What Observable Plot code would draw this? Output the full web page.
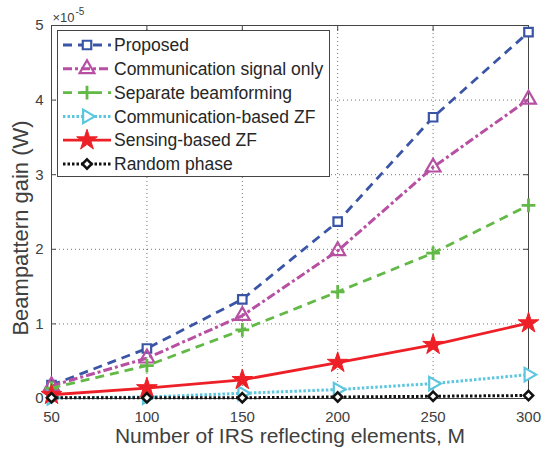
<!DOCTYPE html>
<html>
<head>
<meta charset="utf-8">
<script src="https://cdn.jsdelivr.net/npm/d3@7"></script>
<script src="https://cdn.jsdelivr.net/npm/@observablehq/plot@0.6"></script>
<style>
  html, body { margin: 0; padding: 0; background: white; }
</style>
</head>
<body>
<div id="chart"></div>
<script>
// ---- data (values in units of 1e-5 W) ----
const M = [50, 100, 150, 200, 250, 300];
const proposed    = [0.18, 0.67, 1.33, 2.37, 3.77, 4.91];
const commOnly    = [0.17, 0.54, 1.11, 1.98, 3.10, 4.01];
const separate    = [0.14, 0.44, 0.92, 1.43, 1.95, 2.59];
const commZF      = [0.01, 0.02, 0.07, 0.12, 0.20, 0.32];
const sensingZF   = [0.05, 0.14, 0.25, 0.48, 0.72, 1.01];
const randomPhase = [0.01, 0.01, 0.01, 0.02, 0.03, 0.04];
const seriesNames = ["Proposed", "Communication signal only", "Separate beamforming",
                     "Communication-based ZF", "Sensing-based ZF", "Random phase"];
const xTicks = [50, 100, 150, 200, 250, 300];
const yTicks = [0, 1, 2, 3, 4, 5];
const yLabel = "Beampattern gain (W)";
const xLabel = "Number of IRS reflecting elements, M";

// ---- styles ----
const styles = [
  {values: proposed,    stroke: "#3a55a6", dash: "9,6",     width: 2.8, symbol: "square",   r: 4.8, fill: "white", rotate: 0,  sw: 2.2},
  {values: commOnly,    stroke: "#b74fa3", dash: "9,3,3,3", width: 3,   symbol: "triangle", r: 5.5, fill: "none",  rotate: 0,  sw: 2.2},
  {values: separate,    stroke: "#62b946", dash: "9,6",     width: 2.8, symbol: "plus",     r: 4.5, fill: "none",  rotate: 0,  sw: 2.8},
  {values: commZF,      stroke: "#5cc6df", dash: "2.5,2",   width: 3,   symbol: "triangle", r: 5,   fill: "white", rotate: 90, sw: 2.2},
  {values: sensingZF,   stroke: "#ee2027", dash: null,      width: 2.8, symbol: "star",     r: 6.5, fill: "#ee2027", rotate: 0, sw: 1},
  {values: randomPhase, stroke: "#111111", dash: "2.5,2",   width: 3,   symbol: "diamond2", r: 4.2, fill: "white", rotate: 0,  sw: 2.5}
];

const fmt = d => String(d);

const marks = [
  Plot.gridX(xTicks, {stroke: "#666", strokeOpacity: 0.9, strokeDasharray: "1,3", strokeWidth: 1}),
  Plot.gridY(yTicks, {stroke: "#666", strokeOpacity: 0.9, strokeDasharray: "1,3", strokeWidth: 1}),
  Plot.ruleX(xTicks, {y1: 0, y2: 0.08, stroke: "#444"}),
  Plot.ruleX(xTicks, {y1: 5, y2: 4.92, stroke: "#444"}),
  Plot.ruleY(yTicks, {x1: 50, x2: 52.5, stroke: "#444"}),
  Plot.ruleY(yTicks, {x1: 300, x2: 297.5, stroke: "#444"}),
  Plot.frame({stroke: "#444", strokeWidth: 1}),
  Plot.axisX(xTicks, {tickSize: 0, tickPadding: 13, label: null, fontSize: 15, fill: "#404040", tickFormat: fmt}),
  Plot.axisY(yTicks, {tickSize: 0, tickPadding: 8, label: null, fontSize: 15, fill: "#404040", tickFormat: fmt})
];

styles.forEach((s, k) => {
  const data = M.map((m, i) => ({M: m, v: s.values[i], name: seriesNames[k]}));
  marks.push(Plot.line(data, {x: "M", y: "v", stroke: s.stroke, strokeWidth: s.width,
    strokeDasharray: s.dash, strokeLinecap: "butt"}));
  marks.push(Plot.dot(data, {x: "M", y: "v", symbol: () => s.symbol, r: s.r, stroke: s.stroke,
    fill: s.fill, strokeWidth: s.sw, rotate: s.rotate}));
});

marks.push(
  Plot.text([yLabel], {frameAnchor: "left", rotate: -90, dx: -31, dy: 16, textAnchor: "middle",
    fontSize: 22, fill: "#404040"}),
  Plot.text([xLabel], {frameAnchor: "bottom", dy: 44, textAnchor: "middle",
    fontSize: 21, fill: "#404040"}),
  Plot.text(["\u00d710"], {frameAnchor: "top-left", dx: 1, dy: -13, textAnchor: "start",
    fontSize: 13, fill: "#404040"}),
  Plot.text(["-5"], {frameAnchor: "top-left", dx: 24, dy: -18, textAnchor: "start",
    fontSize: 10, fill: "#404040"})
);

const chart = Plot.plot({
  width: 542,
  height: 450,
  marginLeft: 51,
  marginRight: 14,
  marginTop: 25,
  marginBottom: 52,
  x: {domain: [50, 300]},
  y: {domain: [0, 5]},
  style: {fontFamily: "'Liberation Sans', Arial, sans-serif", fontSize: "14px", background: "white", overflow: "visible"},
  marks
});
document.getElementById("chart").appendChild(chart);

// ---- legend (inside the plot, top-left) ----
const svg = d3.select(chart);
const lg = svg.append("g").attr("font-family", "'Liberation Sans', Arial, sans-serif")
  .attr("text-anchor", "start");
lg.append("rect").attr("x", 57.5).attr("y", 30.5).attr("width", 272).attr("height", 146)
  .attr("fill", "white").attr("stroke", "#444").attr("stroke-width", 1);
const symbolMap = {square: d3.symbolSquare, triangle: d3.symbolTriangle, plus: d3.symbolPlus,
  star: d3.symbolStar, diamond2: d3.symbolDiamond2};
styles.forEach((s, k) => {
  const y = 45 + k * 23.8;
  lg.append("line").attr("x1", 63).attr("x2", 111).attr("y1", y).attr("y2", y)
    .attr("stroke", s.stroke).attr("stroke-width", s.width)
    .attr("stroke-dasharray", s.dash);
  lg.append("path")
    .attr("d", d3.symbol(symbolMap[s.symbol], Math.PI * s.r * s.r)())
    .attr("transform", `translate(87,${y}) rotate(${s.rotate})`)
    .attr("fill", s.fill).attr("stroke", s.stroke).attr("stroke-width", s.sw);
  lg.append("text").attr("x", 114).attr("y", y).attr("dy", "0.35em")
    .attr("text-anchor", "start")
    .attr("font-size", 17.5).attr("fill", "#262626").text(seriesNames[k]);
});
</script>
</body>
</html>
